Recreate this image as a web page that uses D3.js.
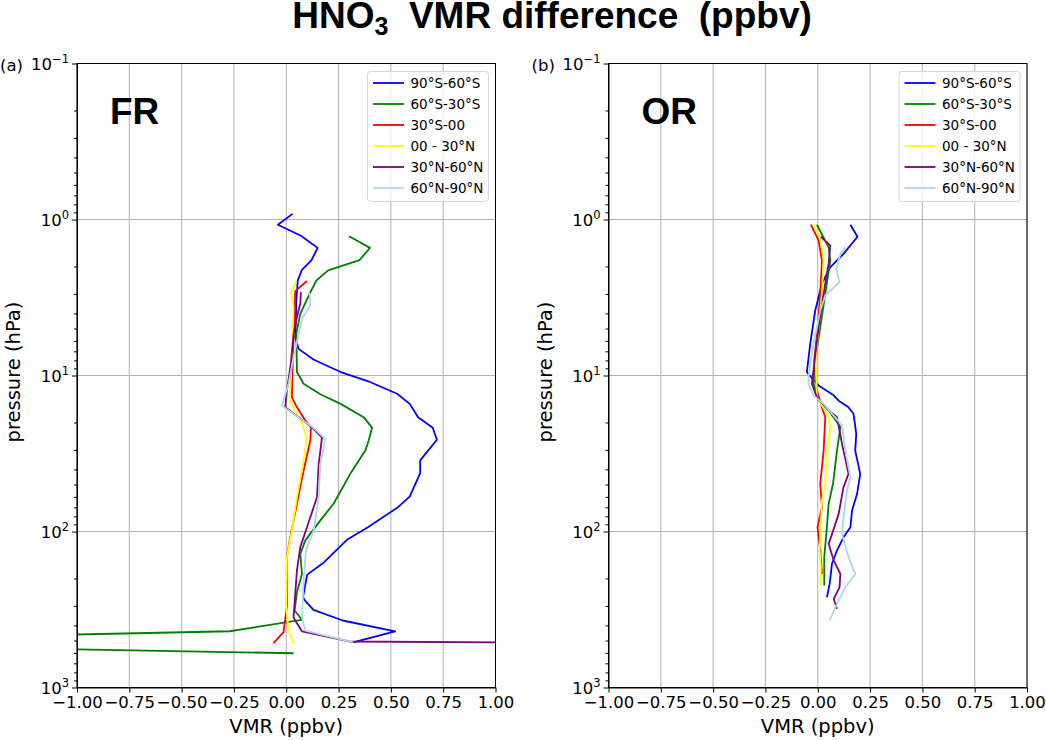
<!DOCTYPE html>
<html>
<head>
<meta charset="utf-8">
<script src="https://cdn.jsdelivr.net/npm/d3@7"></script>
<style>
  body { margin: 0; background: #fff; }
  text { font-family: "DejaVu Sans", sans-serif; }
</style>
</head>
<body>
<svg id="fig" width="1046" height="740"></svg>
<script>
// latitude bands and their line colours
var regions = ["90°S-60°S", "60°S-30°S", "30°S-00", "00 - 30°N", "30°N-60°N", "60°N-90°N"];
var palette = ["#0000ff", "#008000", "#ff0000", "#ffff00", "#800080", "#add8e6"];

var xTicks = [-1, -0.75, -0.5, -0.25, 0, 0.25, 0.5, 0.75, 1];
var yTicks = [0.1, 1, 10, 100, 1000];
var yExp = ["\u22121", "0", "1", "2", "3"];

// FR profiles: [VMR difference (ppbv), pressure (hPa)]
var fr9060S = [[0.03,0.92],[-0.04,1.08],[0.07,1.27],[0.15,1.52],[0.12,1.83],[0.075,2.1],[0.055,2.46],[0.048,3.3],[0.045,4.9],[0.043,5.7],[0.059,6.75],[0.13,7.9],[0.26,9.5],[0.40,11],[0.53,13.1],[0.59,15.2],[0.63,18.5],[0.70,21.6],[0.72,25.8],[0.64,35],[0.64,42.3],[0.59,59.7],[0.53,70.5],[0.39,93.8],[0.29,113],[0.175,160],[0.10,189],[0.08,264],[0.09,277],[0.13,318],[0.27,372],[0.52,436],[0.32,513]];
var fr6030S = [[0.30,1.28],[0.40,1.52],[0.35,1.82],[0.20,2.12],[0.144,2.46],[0.112,2.99],[0.067,4.03],[0.048,5.4],[0.051,9.5],[0.083,11.3],[0.163,13.2],[0.26,15.2],[0.37,18.5],[0.41,21.6],[0.394,26.1],[0.378,30.3],[0.306,42.7],[0.226,66.4],[0.163,84.9],[0.091,114],[0.067,139],[0.075,187],[0.051,245],[0.04,321],[0.075,368],[0.035,376],[-0.27,436],[-2.8,515],[0.035,603]];
var fr3000 = [[0.099,2.48],[0.043,2.88],[0.038,4.44],[0.032,7.26],[0.027,13.8],[0.051,16],[0.091,19.4],[0.118,21.4],[0.115,26.1],[0.083,40.6],[0.051,66.4],[0.019,109],[0.003,146],[0.003,305],[-0.013,442],[-0.061,520]];
var fr0030N = [[0.048,2.48],[0.022,2.96],[0.035,3.65],[0.03,5.6],[0.022,9.3],[0.016,14.5],[0.043,16.7],[0.075,20.4],[0.099,25.5],[0.075,40.6],[0.051,60.3],[0.027,98.6],[0.003,146],[-0.001,291],[0.011,432],[0.035,525]];
var fr3060N = [[0.07,2.92],[0.067,3.47],[0.051,4.23],[0.035,5.41],[0.022,8.41],[0.003,12.5],[-0.005,16],[0.059,18.5],[0.112,20.9],[0.171,24.9],[0.155,36.9],[0.147,60.3],[0.099,93.8],[0.067,126],[0.051,178],[0.035,354],[0.043,372],[0.075,436],[0.30,507],[3.0,531]];
var fr6090N = [[0.112,2.96],[0.115,3.56],[0.075,4.34],[0.035,7.62],[0.011,11.3],[-0.021,15.6],[0.115,20.9],[0.187,25.5],[0.163,36.9],[0.155,60.3],[0.131,98.6],[0.094,132],[0.083,206],[0.075,354],[0.091,432],[0.32,513]];

// OR profiles
var or9060S = [[0.156,1.08],[0.19,1.29],[0.123,1.66],[0.06,2.02],[0.02,2.58],[-0.012,3.83],[-0.036,6.27],[-0.052,9.53],[0.004,11.6],[0.076,13.4],[0.10,14.5],[0.147,16],[0.171,17.6],[0.184,23.7],[0.179,30.3],[0.203,42.7],[0.188,57.3],[0.164,73.3],[0.156,93.8],[0.123,109],[0.092,132],[0.068,161],[0.057,216],[0.044,264]];
var or6030S = [[-0.004,1.08],[0.052,1.51],[0.06,1.83],[0.036,2.99],[0.012,4.9],[-0.012,8.02],[-0.02,11.3],[0.004,14.5],[0.05,16.6],[0.108,21.4],[0.092,30.3],[0.073,49.4],[0.052,66.4],[0.041,104],[0.031,146],[0.031,222]];
var or3000 = [[-0.033,1.08],[0.004,1.36],[0.02,1.83],[0.012,2.99],[0.0,4.9],[-0.017,8.02],[-0.004,12.5],[0.02,16],[0.036,18.5],[0.028,30.3],[0.012,49.4],[0.02,69.8],[-0.001,93.8],[0.012,132],[0.02,187]];
var or0030N = [[-0.02,1.08],[0.015,1.36],[0.028,1.83],[0.02,2.99],[0.004,4.9],[-0.01,8.02],[-0.004,13.8],[0.044,17.6],[0.06,20.9],[0.044,31.8],[0.036,49.4],[0.02,63.2],[0.015,93.8],[0.009,132],[0.015,169],[0.012,222]];
var or3060N = [[0.015,1.29],[0.06,1.47],[0.052,1.92],[0.028,2.99],[0.004,4.9],[-0.028,11.3],[-0.004,13.8],[0.052,16.7],[0.092,18.5],[0.116,27.4],[0.147,42.7],[0.123,52],[0.10,77.1],[0.068,104],[0.052,120],[0.076,153],[0.108,187],[0.104,228],[0.076,270],[0.092,313]];
var or6090N = [[0.132,1.51],[0.108,1.66],[0.089,2.07],[0.104,2.52],[0.036,3.07],[0.012,3.83],[-0.02,6.27],[-0.044,10.2],[-0.044,11.3],[-0.02,13.4],[0.028,15.2],[0.116,20.9],[0.132,30.3],[0.156,44.8],[0.14,54.6],[0.123,80.9],[0.116,104],[0.147,146],[0.179,187],[0.132,228],[0.092,291],[0.057,372]];

var panels = [
    {tag: "(a)", name: "FR", left: 77, series: [fr9060S, fr6030S, fr3000, fr0030N, fr3060N, fr6090N]},
    {tag: "(b)", name: "OR", left: 608.5, series: [or9060S, or6030S, or3000, or0030N, or3060N, or6090N]}
];

var pw = 418.5, plotTop = 63.5, plotBottom = 687.5;
var svg = d3.select("#fig");

// title
var title = svg.append("text")
    .attr("x", 552).attr("y", 28)
    .attr("text-anchor", "middle")
    .style("font-family", "'Liberation Sans', Arial, sans-serif")
    .style("font-weight", "bold")
    .style("font-size", "37px")
    .style("white-space", "pre");
title.append("tspan").text("HNO");
title.append("tspan").attr("dy", 7).style("font-size", "25px").text("3");
title.append("tspan").attr("dy", -7).text("  VMR difference  (ppbv)");

var minorVals = [];
[0.1, 1, 10, 100].forEach(function(d){
    for (var k = 2; k < 10; k++) minorVals.push(d * k);
});

panels.forEach(function(p, pi){
    var x = d3.scaleLinear().domain([-1, 1]).range([p.left, p.left + pw]);
    var y = d3.scaleLog().domain([0.1, 1000]).range([plotTop, plotBottom]);
    var g = svg.append("g");

    // grid
    g.selectAll(".gx").data(xTicks).enter().append("line")
        .attr("x1", function(d){ return x(d); }).attr("x2", function(d){ return x(d); })
        .attr("y1", plotTop).attr("y2", plotBottom)
        .attr("stroke", "#b0b0b0").attr("stroke-width", 1);
    g.selectAll(".gy").data(yTicks).enter().append("line")
        .attr("x1", p.left).attr("x2", p.left + pw)
        .attr("y1", function(d){ return y(d); }).attr("y2", function(d){ return y(d); })
        .attr("stroke", "#b0b0b0").attr("stroke-width", 1);

    // profiles
    var clipId = "clip" + pi;
    svg.append("clipPath").attr("id", clipId).append("rect")
        .attr("x", p.left).attr("y", plotTop).attr("width", pw).attr("height", plotBottom - plotTop);
    var line = d3.line()
        .x(function(d){ return x(d[0]); })
        .y(function(d){ return y(d[1]); });
    g.append("g").attr("clip-path", "url(#" + clipId + ")")
        .selectAll("path").data(p.series).enter().append("path")
        .attr("d", line)
        .attr("fill", "none")
        .attr("stroke", function(d, i){ return palette[i]; })
        .attr("stroke-width", 1.8)
        .attr("stroke-linejoin", "round");

    // axes
    var xAxis = g.append("g").attr("transform", "translate(0," + plotBottom + ")")
        .call(d3.axisBottom(x).tickValues(xTicks).tickSize(5).tickPadding(4).tickSizeOuter(0)
            .tickFormat(function(d){ return d3.format(".2f")(d).replace("-", "\u2212"); }));
    xAxis.selectAll("text").style("font-size", "16.5px").attr("fill", "#000")
        .style("font-family", "'DejaVu Sans', sans-serif");

    var yAxis = g.append("g").attr("transform", "translate(" + p.left + ",0)")
        .call(d3.axisLeft(y).tickValues(yTicks).tickSize(5).tickSizeOuter(0).tickFormat(""));
    g.append("g").attr("transform", "translate(" + p.left + ",0)")
        .call(d3.axisLeft(y).tickValues(minorVals).tickSize(3).tickSizeOuter(0).tickFormat(""))
        .select(".domain").remove();

    yAxis.selectAll(".tick").append("text")
        .attr("x", -8).attr("dy", "0.35em")
        .attr("text-anchor", "end")
        .attr("fill", "#000")
        .style("font-size", "16.5px")
        .style("font-family", "'DejaVu Sans', sans-serif")
        .each(function(d, i){
            var t = d3.select(this);
            t.append("tspan").text("10");
            t.append("tspan").attr("dy", "-0.55em").style("font-size", "11.5px").text(yExp[i]);
        });

    // frame
    g.append("rect")
        .attr("x", p.left).attr("y", plotTop).attr("width", pw).attr("height", plotBottom - plotTop)
        .attr("fill", "none").attr("stroke", "#000").attr("stroke-width", 1);

    // labels
    svg.append("text").attr("x", p.left - 77).attr("y", 71)
        .style("font-size", "16.5px").text(p.tag);
    svg.append("text").attr("x", p.left + 33).attr("y", 124)
        .style("font-family", "'Liberation Sans', Arial, sans-serif")
        .style("font-weight", "bold").style("font-size", "37px").text(p.name);
    svg.append("text").attr("x", p.left + pw / 2).attr("y", 733)
        .attr("text-anchor", "middle").style("font-size", "19.5px").text("VMR (ppbv)");
    svg.append("text")
        .attr("transform", "translate(" + (p.left - 57) + "," + 372 + ") rotate(-90)")
        .attr("text-anchor", "middle").style("font-size", "19.5px").text("pressure (hPa)");

    // legend
    var lg = svg.append("g").attr("transform", "translate(" + (p.left + 290.5) + ",71.5)");
    lg.append("rect").attr("width", 121).attr("height", 130).attr("rx", 3)
        .attr("fill", "#fff").attr("fill-opacity", 0.8)
        .attr("stroke", "#d6d6d6").attr("stroke-width", 1);
    var items = lg.selectAll(".item").data(regions).enter().append("g")
        .attr("transform", function(d, i){ return "translate(0," + (11.5 + i * 21) + ")"; });
    items.append("line").attr("x1", 5.5).attr("x2", 36.5)
        .attr("stroke", function(d, i){ return palette[i]; }).attr("stroke-width", 1.8);
    items.append("text").attr("x", 43).attr("dy", "0.35em")
        .style("font-size", "13.5px").text(function(d){ return d; });
});
</script>
</body>
</html>
